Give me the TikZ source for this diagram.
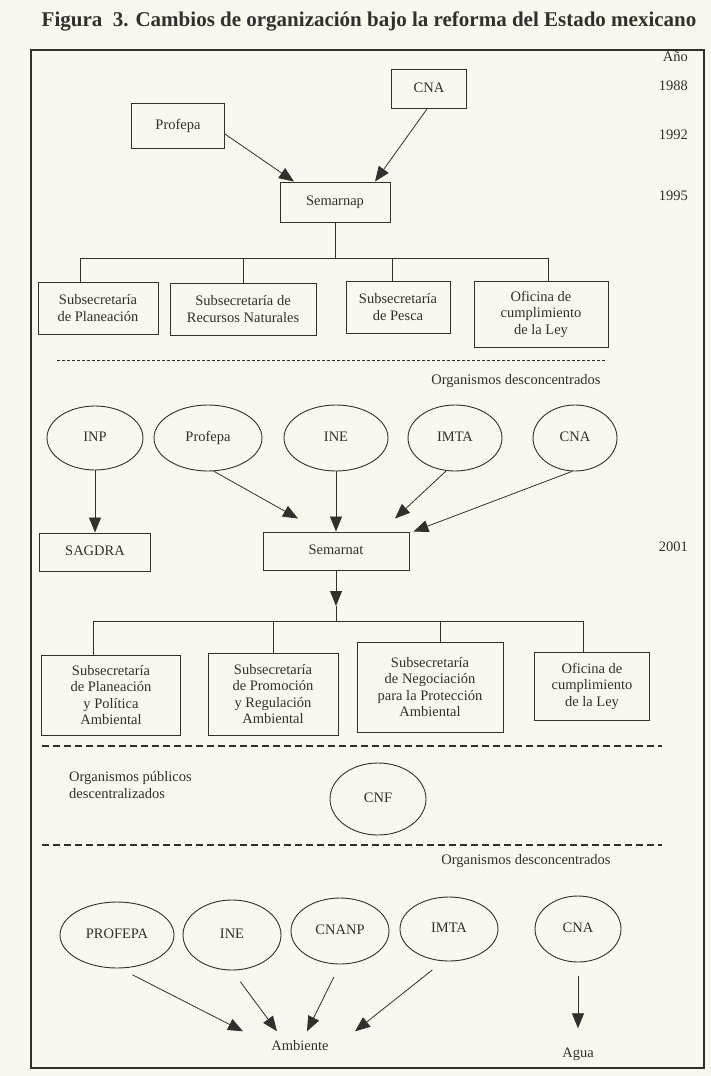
\documentclass[tikz,border=0pt]{standalone}
\usepackage{fontspec}
\setmainfont{Liberation Serif}
\usetikzlibrary{arrows.meta,shapes.geometric}
\definecolor{paper}{RGB}{249,247,240}
\definecolor{ink}{RGB}{50,47,44}
\tikzset{
  txt/.style={text=ink, font=\fontsize{14.5}{16.5}\selectfont, inner sep=0pt, align=center},
  one/.style={text height=10pt, text depth=3pt},
  yr/.style={txt, one, anchor=east},
  box/.style={txt, draw=ink, line width=0.9pt, rectangle},
  ell/.style={txt, one, draw=ink, line width=0.9pt, ellipse},
  arr/.style={draw=ink, line width=0.8pt, -{Triangle[length=15pt,width=12pt]}},
  ln/.style={draw=ink, line width=0.8pt},
  dsh/.style={draw=ink, line width=0.8pt, dash pattern=on 3pt off 2pt},
  dshb/.style={draw=ink, line width=1.2pt, dash pattern=on 7pt off 4pt},
}
\begin{document}
\begin{tikzpicture}[x=1pt,y=-1pt]
\fill[paper] (0,0) rectangle (711,1076);
\useasboundingbox (0,0) rectangle (711,1076);
\node[txt, font=\fontsize{21}{24}\bfseries] (title) at (369,21) {Figura\ \ 3. Cambios de organización bajo la reforma del Estado mexicano};
\draw[draw=ink, line width=1.2pt] (31,50) rectangle (704,1068);
% years
\node[yr] (ano) at (688,58) {Año};
\node[yr] (y88) at (688,87) {1988};
\node[yr] (y92) at (688,136) {1992};
\node[yr] (y95) at (688,197) {1995};
\node[yr] (y01) at (688,548) {2001};
% top
\node[box, one, minimum width=75, minimum height=39] (cnaA) at (429,89) {CNA};
\node[box, one, minimum width=93, minimum height=45] (profepaA) at (178,126) {Profepa};
\node[box, one, minimum width=110, minimum height=40] (semarnap) at (335,202) {Semarnap};
\draw[arr] ([yshift=-8pt]profepaA.east) -- ([xshift=-41pt]semarnap.north);
\draw[arr] ([xshift=-2pt]cnaA.south) -- ([xshift=40pt]semarnap.north);
% first tree
\node[box, minimum width=120, minimum height=52] (s1) at (98,308) {Subsecretaría\\de Planeación};
\node[box, minimum width=146, minimum height=52] (s2) at (243,309) {Subsecretaría de\\Recursos Naturales};
\node[box, minimum width=104, minimum height=52] (s3) at (398,307) {Subsecretaría\\de Pesca};
\node[box, minimum width=134, minimum height=66] (s4) at (541,314) {Oficina de\\cumplimiento\\de la Ley};
\coordinate (bus1) at (335,258);
\draw[ln] (semarnap.south) -- (bus1);
\draw[ln] ([xshift=-18pt]s1.north) |- (bus1);
\draw[ln] ([xshift=7pt]s4.north) |- (bus1);
\draw[ln] (s2.north) -- (s2.north |- bus1);
\draw[ln] ([xshift=-6pt]s3.north) -- ([xshift=-6pt]s3.north |- bus1);
\coordinate (d1a) at (57,360);
\coordinate (d1b) at (607,360);
\draw[dsh] (d1a) -- (d1b);
\node[txt, one] (orgd1) at (516,381) {Organismos desconcentrados};
% second row ellipses
\node[ell, minimum width=96, minimum height=64] (inp) at (95,438) {INP};
\node[ell, minimum width=108, minimum height=66] (profepaB) at (208,438) {Profepa};
\node[ell, minimum width=104, minimum height=66] (ineB) at (336,438) {INE};
\node[ell, minimum width=94, minimum height=66] (imtaB) at (455,438) {IMTA};
\node[ell, minimum width=84, minimum height=66] (cnaB) at (575,438) {CNA};
\node[box, one, minimum width=111, minimum height=38] (sagdra) at (95,552) {SAGDRA};
\node[box, one, minimum width=146, minimum height=38] (semarnat) at (336,551) {Semarnat};
\draw[arr] (inp.south) -- (sagdra.north);
\draw[arr] (profepaB.-80) -- ([xshift=-38pt,yshift=13pt]semarnat.north);
\draw[arr] (ineB.south) -- (semarnat.north);
\draw[arr] (imtaB.-105) -- ([xshift=59pt,yshift=13pt]semarnat.north);
\draw[arr] (cnaB.-95) -- ([xshift=4pt]semarnat.north east);
% second tree
\coordinate (tip2) at (336,606);
\coordinate (bus2) at (336,621);
\draw[arr] (semarnat.south) -- (tip2);
\draw[ln] (tip2) -- (bus2);
\node[box, minimum width=139, minimum height=80] (t1) at (111,695) {Subsecretaría\\de Planeación\\y Política\\Ambiental};
\node[box, minimum width=130, minimum height=82] (t2) at (273,694) {Subsecretaría\\de Promoción\\y Regulación\\Ambiental};
\node[box, minimum width=146, minimum height=90] (t3) at (430,687) {Subsecretaría\\de Negociación\\para la Protección\\Ambiental};
\node[box, minimum width=115, minimum height=68] (t4) at (592,686) {Oficina de\\cumplimiento\\de la Ley};
\draw[ln] ([xshift=-18pt]t1.north) |- (bus2);
\draw[ln] ([xshift=-9pt]t4.north) |- (bus2);
\draw[ln] (t2.north) -- (t2.north |- bus2);
\draw[ln] ([xshift=10pt]t3.north) -- ([xshift=10pt]t3.north |- bus2);
\coordinate (d2a) at (42,746);
\coordinate (d2b) at (662,746);
\draw[dshb] (d2a) -- (d2b);
\node[txt, align=left, anchor=west] (opd) at (69,785) {Organismos públicos\\descentralizados};
\node[ell, minimum width=96, minimum height=72] (cnf) at (378,799) {CNF};
\coordinate (d3a) at (42,845);
\coordinate (d3b) at (662,845);
\draw[dshb] (d3a) -- (d3b);
\node[txt, one] (orgd2) at (526,861) {Organismos desconcentrados};
% third row
\node[ell, minimum width=114, minimum height=66] (profepaC) at (117,935) {PROFEPA};
\node[ell, minimum width=98, minimum height=70] (ineC) at (232,935) {INE};
\node[ell, minimum width=98, minimum height=66] (cnanp) at (340,931) {CNANP};
\node[ell, minimum width=98, minimum height=64] (imtaC) at (449,929) {IMTA};
\node[ell, minimum width=86, minimum height=66] (cnaC) at (578,929) {CNA};
\node[txt, one] (amb) at (300,1047) {Ambiente};
\node[txt, one] (agua) at (578,1054) {Agua};
\draw[arr, shorten <=14pt] (profepaC.-85) -- ([xshift=-57pt,yshift=9pt]amb.north);
\draw[arr, shorten <=14pt] (ineC.south) -- ([xshift=-23pt,yshift=9pt]amb.north);
\draw[arr, shorten <=14pt] (cnanp.south) -- ([xshift=7pt,yshift=9pt]amb.north);
\draw[arr, shorten <=14pt] (imtaC.-100) -- ([xshift=55pt,yshift=9pt]amb.north);
\draw[arr, shorten <=14pt] (cnaC.south) -- ([yshift=19pt]agua.north);
\end{tikzpicture}
\end{document}
